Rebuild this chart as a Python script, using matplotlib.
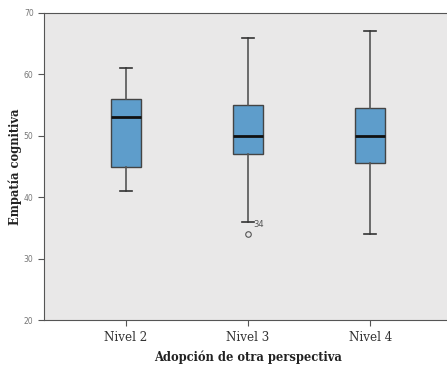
import matplotlib.pyplot as plt

# group labels and five-number summaries
niveles = ['Nivel 2', 'Nivel 3', 'Nivel 4']
whisker_low = [41, 36, 34]
q1 = [45, 47, 45.5]
medians = [53, 50, 50]
q3 = [56, 55, 54.5]
whisker_high = [61, 66, 67]
outliers = [[], [34], []]
outlier_ids = [[], ['34'], []]

stats = []
for i in range(len(niveles)):
    stats.append({'label': niveles[i], 'whislo': whisker_low[i], 'q1': q1[i],
                  'med': medians[i], 'q3': q3[i], 'whishi': whisker_high[i],
                  'fliers': outliers[i]})

fig = plt.figure(figsize=(4.47, 3.67), dpi=100)
ax = fig.add_axes([44 / 447, 47 / 367, 408 / 447, 307 / 367])
ax.set_facecolor('#e9e8e8')

ax.bxp(stats, positions=range(len(niveles)), widths=0.25, capwidths=0.1,
       patch_artist=True,
       boxprops=dict(facecolor='#5e9dcb', edgecolor='#444444', linewidth=1),
       medianprops=dict(color='#111111', linewidth=2),
       whiskerprops=dict(color='#555555', linewidth=1.2),
       capprops=dict(color='#333333', linewidth=1.2),
       flierprops=dict(marker='o', markerfacecolor='none', markeredgecolor='#555555',
                       markersize=4, markeredgewidth=0.8))

for i in range(len(niveles)):
    for val, name in zip(outliers[i], outlier_ids[i]):
        ax.annotate(name, (i, val), xytext=(4, 5), textcoords='offset points',
                    fontsize=6, color='#555555')

ax.set_xlim(-0.67, 2.67)
ax.set_ylim(20, 70)
ax.set_yticks([20, 30, 40, 50, 60, 70])
ax.set_xticks(range(len(niveles)))
ax.set_xticklabels(niveles, fontsize=8.6, family='DejaVu Serif', color='#333333')
ax.tick_params(axis='y', labelsize=5.5, labelcolor='#777777', length=4, color='#555555')
ax.tick_params(axis='x', length=4, color='#555555', pad=4)
for side in ['left', 'bottom', 'top', 'right']:
    ax.spines[side].set_color('#555555')

ax.set_xlabel('Adopción de otra perspectiva', fontsize=8.3, family='DejaVu Serif',
              fontweight='bold', color='#222222')
ax.set_ylabel('Empatía cognitiva', fontsize=8.3, family='DejaVu Serif',
              fontweight='bold', color='#222222')
ax.xaxis.set_label_coords(0.5, -0.1)
ax.yaxis.set_label_coords(-0.054, 0.5)

fig.savefig('out.png', dpi=100)
